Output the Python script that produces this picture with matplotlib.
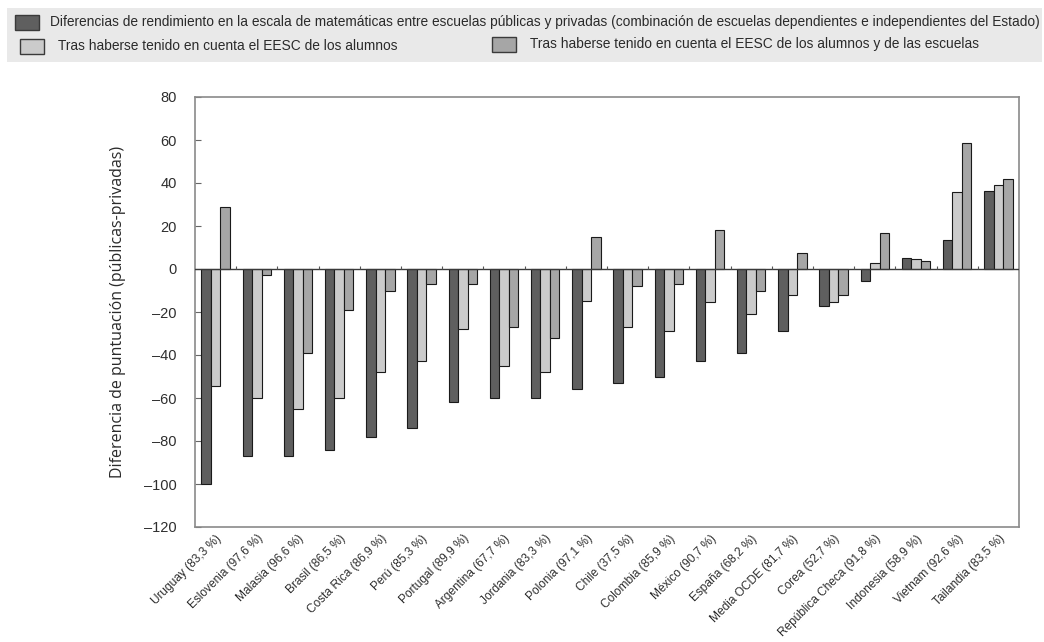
import matplotlib
matplotlib.use("Agg")
import matplotlib.pyplot as plt
from matplotlib.patches import Rectangle
from matplotlib.ticker import FuncFormatter
import numpy as np

# Países / economías y porcentaje de alumnos en escuelas públicas
countries = ["Uruguay", "Eslovenia", "Malasia", "Brasil", "Costa Rica", "Perú",
             "Portugal", "Argentina", "Jordania", "Polonia", "Chile", "Colombia",
             "México", "España", "Media OCDE", "Corea", "República Checa",
             "Indonesia", "Vietnam", "Tailandia"]
public_share = ["83,3", "97,6", "96,6", "86,5", "86,9", "85,3", "89,9", "67,7",
                "83,3", "97,1", "37,5", "85,9", "90,7", "68,2", "81,7", "52,7",
                "91,8", "58,9", "92,6", "83,5"]

# Diferencias de puntuación (públicas - privadas)
diff_raw = [-100, -87, -87, -84, -78, -74, -62, -60, -60, -56,
            -53, -50, -43, -39, -29, -17, -5.6, 5.1, 13.6, 36.4]
diff_students = [-54.6, -60, -65, -60, -48, -43, -28, -45, -48, -15,
                 -27, -29, -15.5, -21, -12, -15.5, 3, 4.6, 35.8, 39]
diff_students_schools = [28.7, -3, -39, -19, -10, -7, -7, -27, -32, 15,
                         -8, -7, 18, -10, 7.4, -12, 16.6, 3.7, 58.6, 41.9]

series_labels = [
    "Diferencias de rendimiento en la escala de matemáticas entre escuelas públicas y privadas "
    "(combinación de escuelas dependientes e independientes del Estado)",
    "Tras haberse tenido en cuenta el EESC de los alumnos",
    "Tras haberse tenido en cuenta el EESC de los alumnos y de las escuelas",
]
series_colors = ["#5f5f5f", "#cbcbcb", "#a6a6a6"]
y_ticks = [80, 60, 40, 20, 0, -20, -40, -60, -80, -100, -120]
y_label = "Diferencia de puntuación (públicas-privadas)"

W, H = 1044, 642
fig = plt.figure(figsize=(W / 100, H / 100), dpi=100)
fig.patch.set_facecolor("white")

ax = fig.add_axes([195 / W, 1 - 527 / H, (1019 - 195) / W, (527 - 97) / H])

x = np.arange(len(countries))
bw = 0.23
series = [diff_raw, diff_students, diff_students_schools]
for k, (vals, col) in enumerate(zip(series, series_colors)):
    ax.bar(x + (k - 1) * bw, vals, bw, color=col, edgecolor="#1a1a1a",
           linewidth=0.8, zorder=3)

ax.set_xlim(-0.5, len(countries) - 0.5)
ax.set_ylim(-120, 80)

# zero line with small separators between groups
ax.axhline(0, color="#3a3a3a", linewidth=1.0, zorder=4)
bounds = np.arange(len(countries) - 1) + 0.5
ax.vlines(bounds, 0, 1.2, color="#555555", linewidth=0.8, zorder=4)

for s in ax.spines.values():
    s.set_color("#8a8a8a")
    s.set_linewidth(1.2)

ax.set_yticks(y_ticks)
ax.yaxis.set_major_formatter(FuncFormatter(lambda v, p: f"{int(v)}".replace("-", "\u2013")))
ax.tick_params(axis="y", direction="in", length=4, width=0.8, color="#666666",
               pad=13, labelsize=10.5, labelcolor="#2e2e2e")
for t in ax.get_yticklabels():
    t.set_family("Liberation Sans")

xlabels = [f"{c} ({p} %)" for c, p in zip(countries, public_share)]
ax.set_xticks(x)
ax.set_xticklabels(xlabels, rotation=45, ha="right", rotation_mode="anchor",
                   family="Liberation Sans", fontsize=8.6, color="#2e2e2e")
ax.tick_params(axis="x", length=0, pad=4)

ax.set_ylabel(y_label, family=["Open Sans", "DejaVu Sans"], fontsize=11.5,
              color="#2a2a2a", va="center")
ax.yaxis.set_label_coords((118 - 195) / (1019 - 195), 0.5)

# Legend band
fig.patches.append(Rectangle((7 / W, 1 - 62 / H), (W - 9) / W, 54 / H,
                             transform=fig.transFigure, facecolor="#e9e9e9",
                             edgecolor="none", zorder=0))

renderer = fig.canvas.get_renderer()


def fitted_text(xp, yp, s, target_w, base=10):
    t = fig.text(xp / W, 1 - yp / H, s, ha="left", va="center",
                 family=["Liberation Sans Narrow", "Liberation Sans"],
                 fontsize=base, color="#2a2a2a", zorder=3)
    w = t.get_window_extent(renderer).width
    t.set_fontsize(base * target_w / w)
    return t


def swatch(x0, y0, color):
    fig.patches.append(Rectangle((x0 / W, 1 - (y0 + 15) / H), 24 / W, 15 / H,
                                 transform=fig.transFigure, facecolor=color,
                                 edgecolor="#3a3a3a", linewidth=1.0, zorder=3))


swatch(15, 15, series_colors[0])
fitted_text(50, 22, series_labels[0], 987)
swatch(20, 39, series_colors[1])
fitted_text(58, 46, series_labels[1], 340)
swatch(492, 37, series_colors[2])
fitted_text(530, 44, series_labels[2], 448)

fig.savefig("out.png", dpi=100)
